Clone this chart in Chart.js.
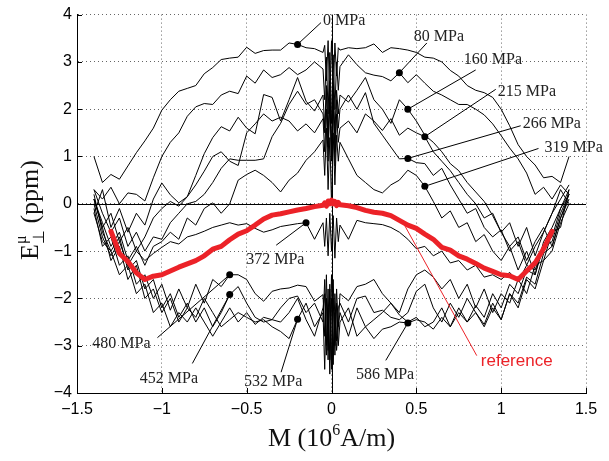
<!DOCTYPE html>
<html>
<head>
<meta charset="utf-8">
<script src="https://cdn.jsdelivr.net/npm/chart.js@4.4.1/dist/chart.umd.min.js"></script>
<style>
  html, body { margin: 0; padding: 0; background: #fff; }
  #wrap { width: 609px; height: 461px; position: relative; }
</style>
</head>
<body>
<div id="wrap"><canvas id="strainChart"></canvas></div>
<script>
// M values (10^6 A/m), shared by every curve
const mValues = [
  -1.40, -1.35, -1.30, -1.25, -1.20, -1.15, -1.10, -1.05, -1.00, -0.95, -0.90, -0.85, -0.80, -0.75,
  -0.70, -0.65, -0.60, -0.55, -0.50, -0.45, -0.40, -0.35, -0.30, -0.25, -0.20, -0.15, -0.10, -0.05,
  -0.04, -0.03, -0.02, -0.01, 0, 0.01, 0.02, 0.03, 0.04,
  0.05, 0.10, 0.15, 0.20, 0.25, 0.30, 0.35, 0.40, 0.45, 0.50, 0.55, 0.60, 0.65, 0.70,
  0.75, 0.80, 0.85, 0.90, 0.95, 1.00, 1.05, 1.10, 1.15, 1.20, 1.25, 1.30, 1.35, 1.40
];

const curve0 = [
  1.0, 0.45, 0.62, 0.52, 0.8, 1.08, 1.33, 1.6, 1.98, 2.2, 2.38, 2.44, 2.5, 2.75,
  2.88, 3.05, 3.08, 3.1, 3.31, 3.18, 3.24, 3.25, 3.25, 3.4, 3.37, 3.3, 3.28, 3.2,
  3.35, 2.6, 3.45, 2.2, 3.45, 2.3, 3.4, 2.7, 3.3,
  3.25, 3.3, 3.28, 3.3, 3.38, 3.2, 3.3, 3.28, 3.25, 3.2, 3.1, 3.08, 3.0, 2.82,
  2.7, 2.5, 2.4, 2.35, 2.25, 2.0, 1.65, 1.25, 1.0, 0.82, 0.55, 0.58, 0.45, 1.0
];
const curve80 = [
  0.3, 0.1, 0.35, 0.0, 0.23, 0.2, 0.06, 0.55, 1.0, 1.3, 1.5, 1.85, 2.05, 2.12,
  2.1, 2.3, 2.38, 2.33, 2.7, 2.55, 2.83, 2.67, 2.73, 2.88, 2.73, 2.83, 3.0, 2.85,
  2.2, 3.1, 1.9, 3.2, 1.7, 3.15, 2.0, 3.0, 2.4,
  2.9, 3.15, 2.94, 2.77, 2.72, 2.69, 2.6, 2.77, 2.56, 2.73, 2.55, 2.38, 2.3, 2.2,
  2.1, 2.1, 2.0, 1.88, 1.69, 1.44, 1.18, 0.95, 0.65, 0.2, 0.35, 0.1, 0.4, 0.2
];
const curve160 = [
  -0.2, 0.3, -0.5, -0.1, -0.6, -0.2, -0.45, 0.1, 0.44, 0.19, 0.02, 0.15, 0.6, 1.06,
  1.4, 1.63, 1.54, 1.83, 1.6, 1.48, 2.31, 2.25, 1.75, 2.2, 2.67, 2.17, 1.96, 2.3,
  1.6, 2.5, 1.4, 2.6, 1.2, 2.5, 1.5, 2.4, 1.9,
  2.3, 2.15, 2.4, 2.67, 2.2, 2.0, 1.7, 2.2, 2.0, 1.75, 1.45, 1.3, 1.1, 0.85,
  0.7, 0.45, 0.25, 0.05, -0.25, -0.6, -0.4, -0.9, -0.5, -1.1, -0.6, -0.2, 0.3, 0.0
];
const curve215 = [
  0.1, -0.5, -0.2, -0.8, -0.5, -1.0, -0.7, -0.3, -0.1, 0.05, -0.05, 0.15, 0.4, 0.69,
  1.0, 1.1, 0.9, 0.81, 1.5, 1.69, 1.9, 1.75, 1.83, 1.75, 1.54, 1.69, 1.5, 1.8,
  1.1, 2.0, 0.9, 2.2, 1.0, 2.1, 0.8, 1.9, 1.3,
  1.6, 1.75, 1.5, 1.9, 1.75, 1.55, 1.8, 1.45, 1.6, 1.5, 1.42, 1.1, 0.9, 0.7,
  0.45, 0.2, 0.0, -0.3, -0.2, -0.6, -0.9, -0.7, -1.2, -0.8, -0.5, -0.9, -0.3, 0.2
];
const curve266 = [
  0.3, -0.2, -0.6, -0.3, -0.9, -0.6, -1.0, -0.7, -0.75, -0.4, -0.2, 0.0, 0.05, 0.2,
  0.45, 0.75, 0.95, 0.92, 0.92, 0.92, 0.95, 1.42, 1.7, 2.1, 2.38, 2.1, 2.2, 1.9,
  1.5, 2.4, 1.2, 2.3, 0.9, 2.35, 1.1, 2.2, 1.6,
  2.0, 2.3, 2.0, 2.35, 1.7, 1.45, 1.2, 0.95, 0.96, 0.87, 0.85, 0.6, 0.75, 0.4,
  0.1, -0.2, -0.1, -0.5, -0.7, -0.55, -1.0, -0.8, -1.3, -0.9, -0.6, -0.2, 0.1, 0.4
];
const curve319 = [
  0.1, -0.4, -0.9, -0.6, -1.2, -0.9, -1.3, -0.9, -0.8, -0.6, -0.75, -0.3, -0.45, -0.1,
  0.02, -0.2, 0.0, 0.5, 0.62, 0.71, 0.6, 0.45, 0.25, 0.5, 0.65, 0.92, 1.1, 1.35,
  0.6, 1.6, 0.3, 1.4, 0.0, 1.5, 0.4, 1.45, 0.9,
  1.3, 0.95, 0.6, 0.45, 0.3, 0.23, 0.4, 0.5, 0.71, 0.6, 0.37, 0.05, -0.3, -0.15,
  -0.5, -0.4, -0.8, -0.65, -1.0, -1.2, -0.9, -1.4, -1.0, -1.5, -0.8, -0.5, -0.1, 0.3
];
const curve372 = [
  0.0, -0.7, -1.1, -0.8, -1.3, -1.0, -1.2, -1.05, -0.92, -0.8, -0.85, -0.7, -0.65, -0.58,
  -0.5, -0.45, -0.4, -0.45, -0.42, -0.52, -0.6, -0.55, -0.48, -0.45, -0.42, -0.4, -0.75, -0.4,
  -0.9, -0.3, -1.1, -0.2, -1.0, -0.25, -1.15, -0.3, -0.8,
  -0.45, -0.75, -0.35, -0.4, -0.42, -0.44, -0.5, -0.6, -0.75, -0.95, -0.9, -1.1, -1.0, -1.25,
  -1.2, -1.4, -1.3, -1.55, -1.5, -1.6, -1.45, -1.65, -1.3, -1.4, -0.9, -0.8, -0.2, 0.2
];
const curve452 = [
  0.2, -0.6, -1.0, -0.7, -1.4, -1.2, -1.8, -1.6, -2.2, -1.9, -2.4, -2.1, -2.5, -2.2,
  -2.6, -2.3, -1.92, -1.75, -2.1, -2.4, -2.5, -2.45, -2.2, -2.0, -1.95, -2.3, -2.1, -2.5,
  -1.6, -3.0, -1.8, -3.3, -1.5, -3.2, -1.9, -2.9, -2.2,
  -2.1, -2.5, -2.0, -1.95, -2.3, -2.25, -2.4, -2.45, -2.3, -1.85, -1.7, -2.2, -2.5, -2.1,
  -2.4, -2.0, -2.3, -2.55, -2.1, -2.45, -1.9, -2.1, -1.55, -1.7, -1.05, -0.9, -0.3, 0.1
];
const curve480 = [
  -0.1, -0.9, -0.7, -1.3, -1.1, -1.7, -1.5, -2.0, -1.7, -2.25, -1.8, -2.2, -1.7, -2.1,
  -1.6, -1.75, -1.5, -1.5, -1.6, -1.9, -2.06, -1.85, -1.8, -1.78, -1.72, -1.75, -2.06, -1.92,
  -2.8, -1.5, -3.1, -1.7, -3.4, -1.6, -3.0, -1.8, -2.6,
  -1.9, -2.05, -1.75, -1.7, -1.6, -1.9, -2.1, -2.3, -1.8, -1.5, -1.4, -1.55, -1.8, -1.6,
  -2.0, -1.7, -2.2, -1.8, -2.3, -1.9, -2.1, -1.6, -1.9, -1.3, -1.2, -0.6, -0.5, 0.3
];
const curve532 = [
  0.1, -0.5, -1.2, -0.9, -1.6, -1.3, -2.0, -1.8, -2.3, -2.0, -2.5, -2.2, -2.4, -2.0,
  -2.3, -2.6, -2.45, -2.3, -2.4, -2.5, -2.45, -2.6, -2.7, -2.85, -2.44, -2.1, -2.6, -2.3,
  -3.5, -2.0, -3.3, -1.8, -3.5, -2.0, -3.2, -2.1, -3.0,
  -2.5, -2.2, -2.8, -2.6, -2.45, -2.3, -2.1, -2.35, -2.5, -2.4, -2.6, -2.5, -2.2, -2.6,
  -2.3, -2.5, -2.15, -2.4, -1.9, -2.2, -1.7, -1.9, -1.4, -1.5, -0.9, -0.7, -0.1, 0.2
];
const curve586 = [
  -0.2, -0.8, -1.0, -1.5, -1.3, -1.9, -1.7, -2.3, -2.1, -2.6, -2.3, -2.5, -2.2, -2.5,
  -2.8, -2.5, -2.2, -2.5, -2.3, -2.55, -2.4, -2.45, -2.5, -2.3, -2.0, -2.45, -2.8, -2.2,
  -1.9, -3.2, -2.2, -3.6, -2.0, -3.4, -2.3, -3.1, -2.6,
  -2.3, -2.8, -2.2, -2.6, -2.85, -2.65, -2.6, -2.5, -2.52, -2.45, -2.5, -2.65, -2.4, -2.6,
  -2.2, -2.5, -2.3, -2.6, -2.2, -2.45, -1.9, -2.2, -1.6, -1.8, -1.2, -1.0, -0.4, 0.0
];
const referenceCurve = [
  null, null, -0.58, -1.05, -1.22, -1.46, -1.6, -1.53, -1.5, -1.42, -1.34, -1.27, -1.2, -1.1,
  -0.96, -0.9, -0.76, -0.64, -0.57, -0.45, -0.32, -0.24, -0.21, -0.17, -0.13, -0.1, -0.06, -0.03,
  0.02, -0.05, 0.06, 0.0, 0.08, 0.0, 0.05, -0.04, 0.03,
  -0.02, -0.04, -0.08, -0.14, -0.18, -0.2, -0.25, -0.35, -0.45, -0.52, -0.64, -0.75, -0.92, -0.98,
  -1.1, -1.17, -1.26, -1.36, -1.43, -1.5, -1.52, -1.6, -1.42, -1.25, -0.95, -0.58, null, null
];

const stressCurves = [curve0, curve80, curve160, curve215, curve266, curve319,
  curve372, curve452, curve480, curve532, curve586];
const stressLabels = ['0 MPa', '80 MPa', '160 MPa', '215 MPa', '266 MPa', '319 MPa',
  '372 MPa', '452 MPa', '480 MPa', '532 MPa', '586 MPa'];

const xTickValues = [-1.5, -1, -0.5, 0, 0.5, 1, 1.5];
const xTickLabels = ['\u22121.5', '\u22121', '\u22120.5', '0', '0.5', '1', '1.5'];
const yTickValues = [-4, -3, -2, -1, 0, 1, 2, 3, 4];
const yTickLabels = ['\u22124', '\u22123', '\u22122', '\u22121', '0', '1', '2', '3', '4'];

// where each stress label sits: dot on the curve at M = dotAt, leader line to `end`, text at `pos`
const labelSpots = [
  { curve: 0, dotAt: -0.20, end: [-0.062, 3.83], pos: [-0.05, 3.875] },
  { curve: 1, dotAt: 0.40, end: [0.562, 3.40], pos: [0.485, 3.54] },
  { curve: 2, dotAt: 0.45, end: [0.85, 2.83], pos: [0.78, 3.04] },
  { curve: 3, dotAt: 0.55, end: [0.968, 2.42], pos: [0.98, 2.375] },
  { curve: 4, dotAt: 0.45, end: [1.115, 1.65], pos: [1.127, 1.69] },
  { curve: 5, dotAt: 0.55, end: [1.22, 1.17], pos: [1.256, 1.19] },
  { curve: 6, dotAt: -0.15, end: [-0.326, -0.875], pos: [-0.503, -1.19] },
  { curve: 7, dotAt: -0.60, end: [-0.82, -3.375], pos: [-1.13, -3.69] },
  { curve: 8, dotAt: -0.60, end: [-1.026, -2.83], pos: [-1.41, -2.96] },
  { curve: 9, dotAt: -0.20, end: [-0.297, -3.56], pos: [-0.515, -3.77] },
  { curve: 10, dotAt: 0.45, end: [0.32, -3.31], pos: [0.144, -3.625] }
];
const referenceSpot = { from: [0.43, -0.45], end: [0.856, -3.21], pos: [0.88, -3.33] };

const serif = "'Liberation Serif', 'Times New Roman', serif";
const sans = "'Liberation Sans', Arial, Helvetica, sans-serif";
const redColor = '#ec2228';

const toPoints = (vals) => mValues.map((m, i) => ({ x: m, y: vals[i] }));

const datasets = [{
  label: 'reference',
  data: toPoints(referenceCurve),
  borderColor: redColor,
  borderWidth: 5,
  borderJoinStyle: 'round',
  borderCapStyle: 'round',
  pointRadius: 0,
  order: 0
}];
stressCurves.forEach((vals, i) => {
  datasets.push({
    label: stressLabels[i],
    data: toPoints(vals),
    borderColor: '#000',
    borderWidth: 1,
    pointRadius: 0,
    order: 1
  });
});

const annotatePlugin = {
  id: 'annotate',
  beforeDatasetsDraw(chart) {
    const { ctx, chartArea: a, scales: { x, y } } = chart;
    ctx.save();
    ctx.strokeStyle = '#000';
    ctx.lineWidth = 1;
    const y0 = Math.round(y.getPixelForValue(0)) + 0.5;
    const x0 = Math.round(x.getPixelForValue(0)) + 0.5;
    ctx.beginPath();
    ctx.moveTo(a.left, y0); ctx.lineTo(a.right, y0);
    ctx.moveTo(x0, a.top); ctx.lineTo(x0, a.bottom);
    ctx.stroke();
    ctx.restore();
  },
  afterDatasetsDraw(chart) {
    const { ctx, scales: { x, y } } = chart;
    const px = (v) => x.getPixelForValue(v);
    const py = (v) => y.getPixelForValue(v);
    ctx.save();
    ctx.font = '16px ' + serif;
    ctx.textAlign = 'left';
    ctx.textBaseline = 'middle';
    labelSpots.forEach((s) => {
      const idx = mValues.findIndex((m) => Math.abs(m - s.dotAt) < 1e-9);
      const dx = px(s.dotAt), dy = py(stressCurves[s.curve][idx]);
      ctx.strokeStyle = '#000';
      ctx.lineWidth = 1;
      ctx.beginPath();
      ctx.moveTo(dx, dy);
      ctx.lineTo(px(s.end[0]), py(s.end[1]));
      ctx.stroke();
      ctx.fillStyle = '#000';
      ctx.beginPath();
      ctx.arc(dx, dy, 3.5, 0, Math.PI * 2);
      ctx.fill();
      ctx.fillStyle = '#222';
      ctx.fillText(stressLabels[s.curve], px(s.pos[0]), py(s.pos[1]));
    });
    // reference callout
    ctx.strokeStyle = redColor;
    ctx.lineWidth = 1;
    ctx.beginPath();
    ctx.moveTo(px(referenceSpot.from[0]), py(referenceSpot.from[1]));
    ctx.lineTo(px(referenceSpot.end[0]), py(referenceSpot.end[1]));
    ctx.stroke();
    ctx.fillStyle = redColor;
    ctx.font = '17px ' + sans;
    ctx.fillText('reference', px(referenceSpot.pos[0]), py(referenceSpot.pos[1]));
    ctx.restore();
  },
  afterDraw(chart) {
    const { ctx, chartArea: a, scales: { x, y } } = chart;
    ctx.save();
    // inward major ticks on left and bottom axes
    ctx.strokeStyle = '#000';
    ctx.lineWidth = 1;
    ctx.beginPath();
    xTickValues.forEach((v) => {
      const p = Math.round(x.getPixelForValue(v)) + 0.5;
      ctx.moveTo(p, a.bottom); ctx.lineTo(p, a.bottom - 5);
    });
    yTickValues.forEach((v) => {
      const p = Math.round(y.getPixelForValue(v)) + 0.5;
      ctx.moveTo(a.left, p); ctx.lineTo(a.left + 5, p);
    });
    ctx.stroke();

    // x axis title: M (10^6 A/m)
    ctx.fillStyle = '#111';
    ctx.textBaseline = 'alphabetic';
    ctx.textAlign = 'left';
    const big = '26px ' + serif, small = '16px ' + serif;
    ctx.font = big;
    const p1 = 'M (10', p3 = 'A/m)';
    const w1 = ctx.measureText(p1).width, w3 = ctx.measureText(p3).width;
    ctx.font = small;
    const w2 = ctx.measureText('6').width;
    let cx = (a.left + a.right) / 2 - (w1 + w2 + w3) / 2;
    const base = a.bottom + 53;
    ctx.font = big; ctx.fillText(p1, cx, base); cx += w1;
    ctx.font = small; ctx.fillText('6', cx, base - 11); cx += w2;
    ctx.font = big; ctx.fillText(p3, cx, base);

    // y axis title: E_perp^mu (ppm)
    ctx.translate(38, 210);
    ctx.rotate(-Math.PI / 2);
    ctx.font = big;
    const we = ctx.measureText('E').width, wp = ctx.measureText(' (ppm)').width;
    ctx.font = small;
    const ws = Math.max(ctx.measureText('\u22A5').width, ctx.measureText('\u03BC').width);
    let ty = -(we + ws + wp) / 2;
    ctx.font = big; ctx.fillText('E', ty, 0); ty += we;
    ctx.font = small;
    ctx.fillText('\u03BC', ty, -12);
    ctx.fillText('\u22A5', ty, 6);
    ty += ws;
    ctx.font = big; ctx.fillText(' (ppm)', ty, 0);
    ctx.restore();
  }
};

const ctx = document.getElementById('strainChart').getContext('2d');
const strainChart = new Chart(ctx, {
  type: 'line',
  data: { datasets: datasets },
  options: {
    responsive: true,
    maintainAspectRatio: false,
    animation: false,
    layout: { padding: { top: 9, right: 23, left: 0, bottom: 0 } },
    elements: { line: { tension: 0 } },
    plugins: {
      legend: { display: false },
      tooltip: { enabled: false }
    },
    scales: {
      x: {
        type: 'linear',
        min: -1.5,
        max: 1.5,
        afterBuildTicks: (scale) => { scale.ticks = xTickValues.map((v) => ({ value: v })); },
        afterFit: (scale) => { scale.height = 68; },
        ticks: {
          padding: 7,
          color: '#000',
          font: { family: sans, size: 16 },
          maxRotation: 0,
          callback: (value, index) => xTickLabels[index]
        },
        grid: { color: 'rgba(0,0,0,0.6)', lineWidth: 1, drawTicks: false },
        border: { display: true, color: '#000', width: 1, dash: [1, 3] }
      },
      y: {
        type: 'linear',
        min: -4,
        max: 4,
        afterBuildTicks: (scale) => { scale.ticks = yTickValues.map((v) => ({ value: v })); },
        afterFit: (scale) => { scale.width = 77; },
        ticks: {
          padding: 5,
          color: '#000',
          font: { family: sans, size: 16 },
          callback: (value, index) => yTickLabels[index]
        },
        grid: { color: 'rgba(0,0,0,0.6)', lineWidth: 1, drawTicks: false },
        border: { display: true, color: '#000', width: 1, dash: [1, 3] }
      }
    }
  },
  plugins: [annotatePlugin]
});
</script>
</body>
</html>
